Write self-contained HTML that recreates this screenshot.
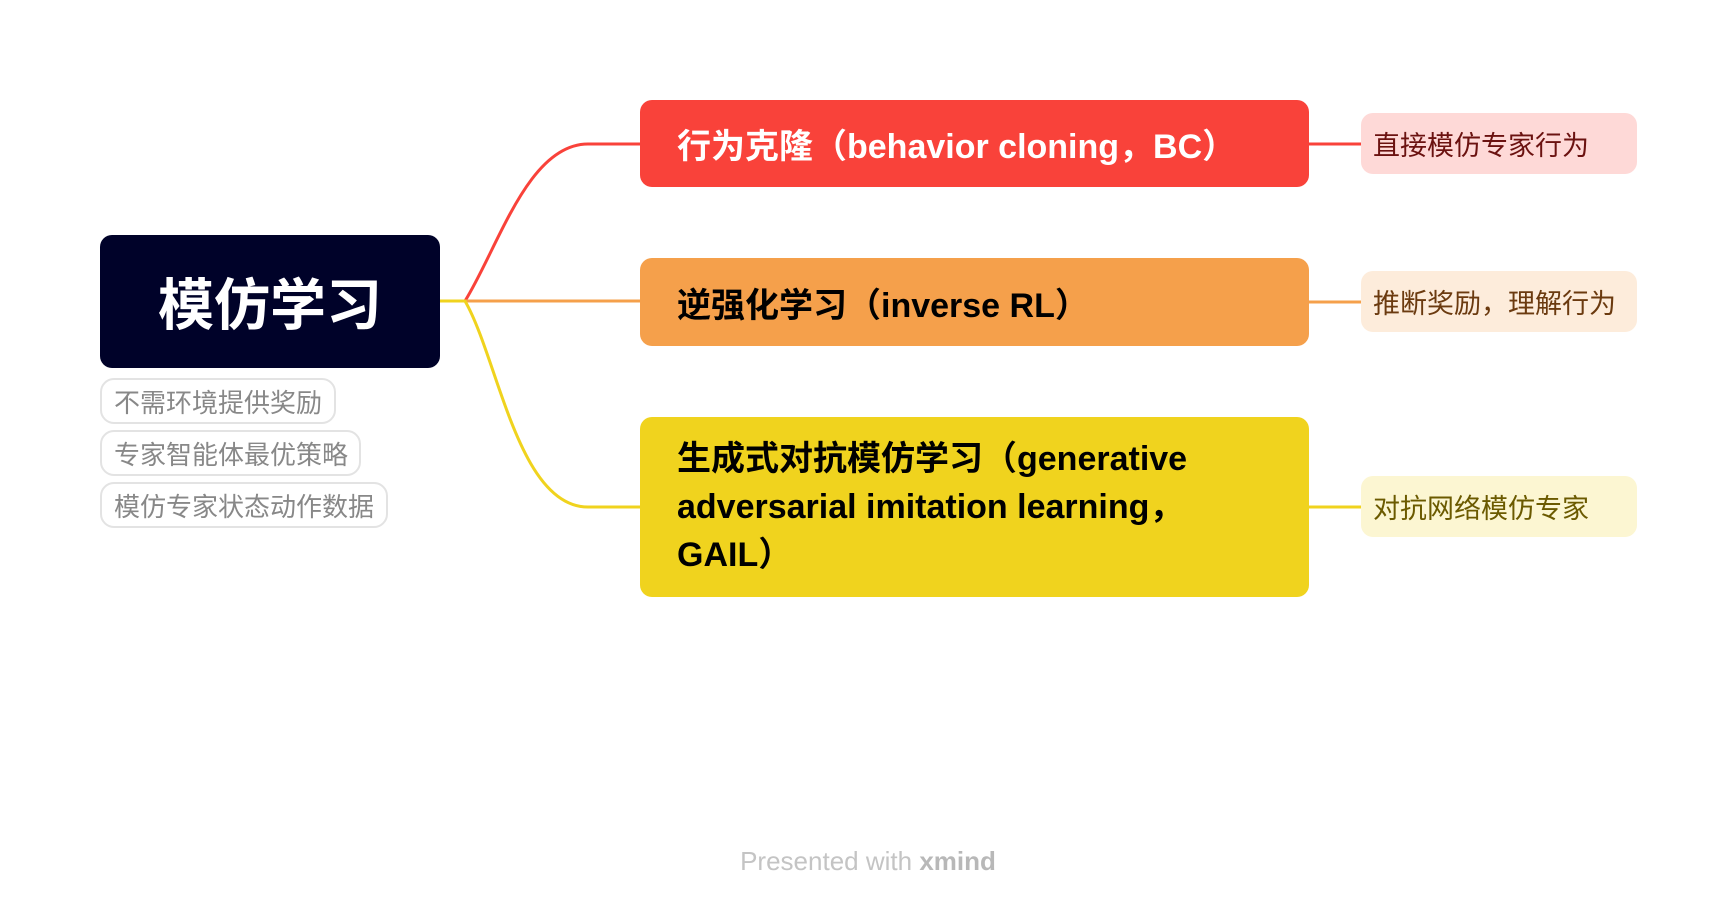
<!DOCTYPE html>
<html><head><meta charset="utf-8"><style>
body{margin:0;width:1736px;height:910px;background:#fff;position:relative;overflow:hidden;font-family:"Liberation Sans","Noto Sans CJK SC",sans-serif}
.b{position:absolute;box-sizing:border-box;border-radius:12px;font-weight:bold;font-size:34px;color:#000;padding-left:37px;display:flex;align-items:center}
.n{position:absolute;box-sizing:border-box;border-radius:12px;font-size:27px;padding-left:12px;display:flex;align-items:center}
.l{position:absolute;box-sizing:border-box;border:2px solid #e3e3e3;border-radius:14px;font-size:26px;color:#888;padding-left:12px;display:flex;align-items:center;left:100px}
</style></head><body>
<svg style="position:absolute;left:0;top:0" width="1736" height="910">
<path d="M440 301 H465 C498 248 528 144 588 144 H640" stroke="#f9423a" stroke-width="3" fill="none"/>
<path d="M440 301 H640" stroke="#f5a04b" stroke-width="3" fill="none"/>
<path d="M440 301 H465 C498 358 518 507 588 507 H640" stroke="#f0d31e" stroke-width="3" fill="none"/>
<path d="M1309 144 H1361" stroke="#f9423a" stroke-width="3"/>
<path d="M1309 302 H1361" stroke="#f5a04b" stroke-width="3"/>
<path d="M1309 507 H1361" stroke="#f0d31e" stroke-width="3"/>
</svg>
<div class="b" style="left:100px;top:235px;width:340px;height:133px;background:#000229;color:#fff;font-size:56px;justify-content:center;padding:0">模仿学习</div>
<div class="b" style="left:640px;top:100px;width:669px;height:87px;background:#f9423a;color:#fff">行为克隆（behavior cloning，BC）</div>
<div class="b" style="left:640px;top:258px;width:669px;height:88px;background:#f5a04b">逆强化学习（inverse RL）</div>
<div class="b" style="left:640px;top:417px;width:669px;height:180px;background:#f0d31e;line-height:48px">生成式对抗模仿学习（generative<br>adversarial imitation learning，<br>GAIL）</div>
<div class="n" style="left:1361px;top:113px;width:276px;height:61px;background:#fed9d7;color:#6b1210">直接模仿专家行为</div>
<div class="n" style="left:1361px;top:271px;width:276px;height:61px;background:#fdecdb;color:#6b3a0f">推断奖励，理解行为</div>
<div class="n" style="left:1361px;top:476px;width:276px;height:61px;background:#fcf6d2;color:#6b5a00">对抗网络模仿专家</div>
<div class="l" style="top:378px;width:236px;height:46px">不需环境提供奖励</div>
<div class="l" style="top:430px;width:261px;height:46px">专家智能体最优策略</div>
<div class="l" style="top:482px;width:288px;height:46px">模仿专家状态动作数据</div>
<div style="position:absolute;left:0;width:1736px;top:846px;text-align:center;font-size:26px;color:#c4c4c4">Presented with <b style="color:#b8b8b8">xmind</b></div>
</body></html>
